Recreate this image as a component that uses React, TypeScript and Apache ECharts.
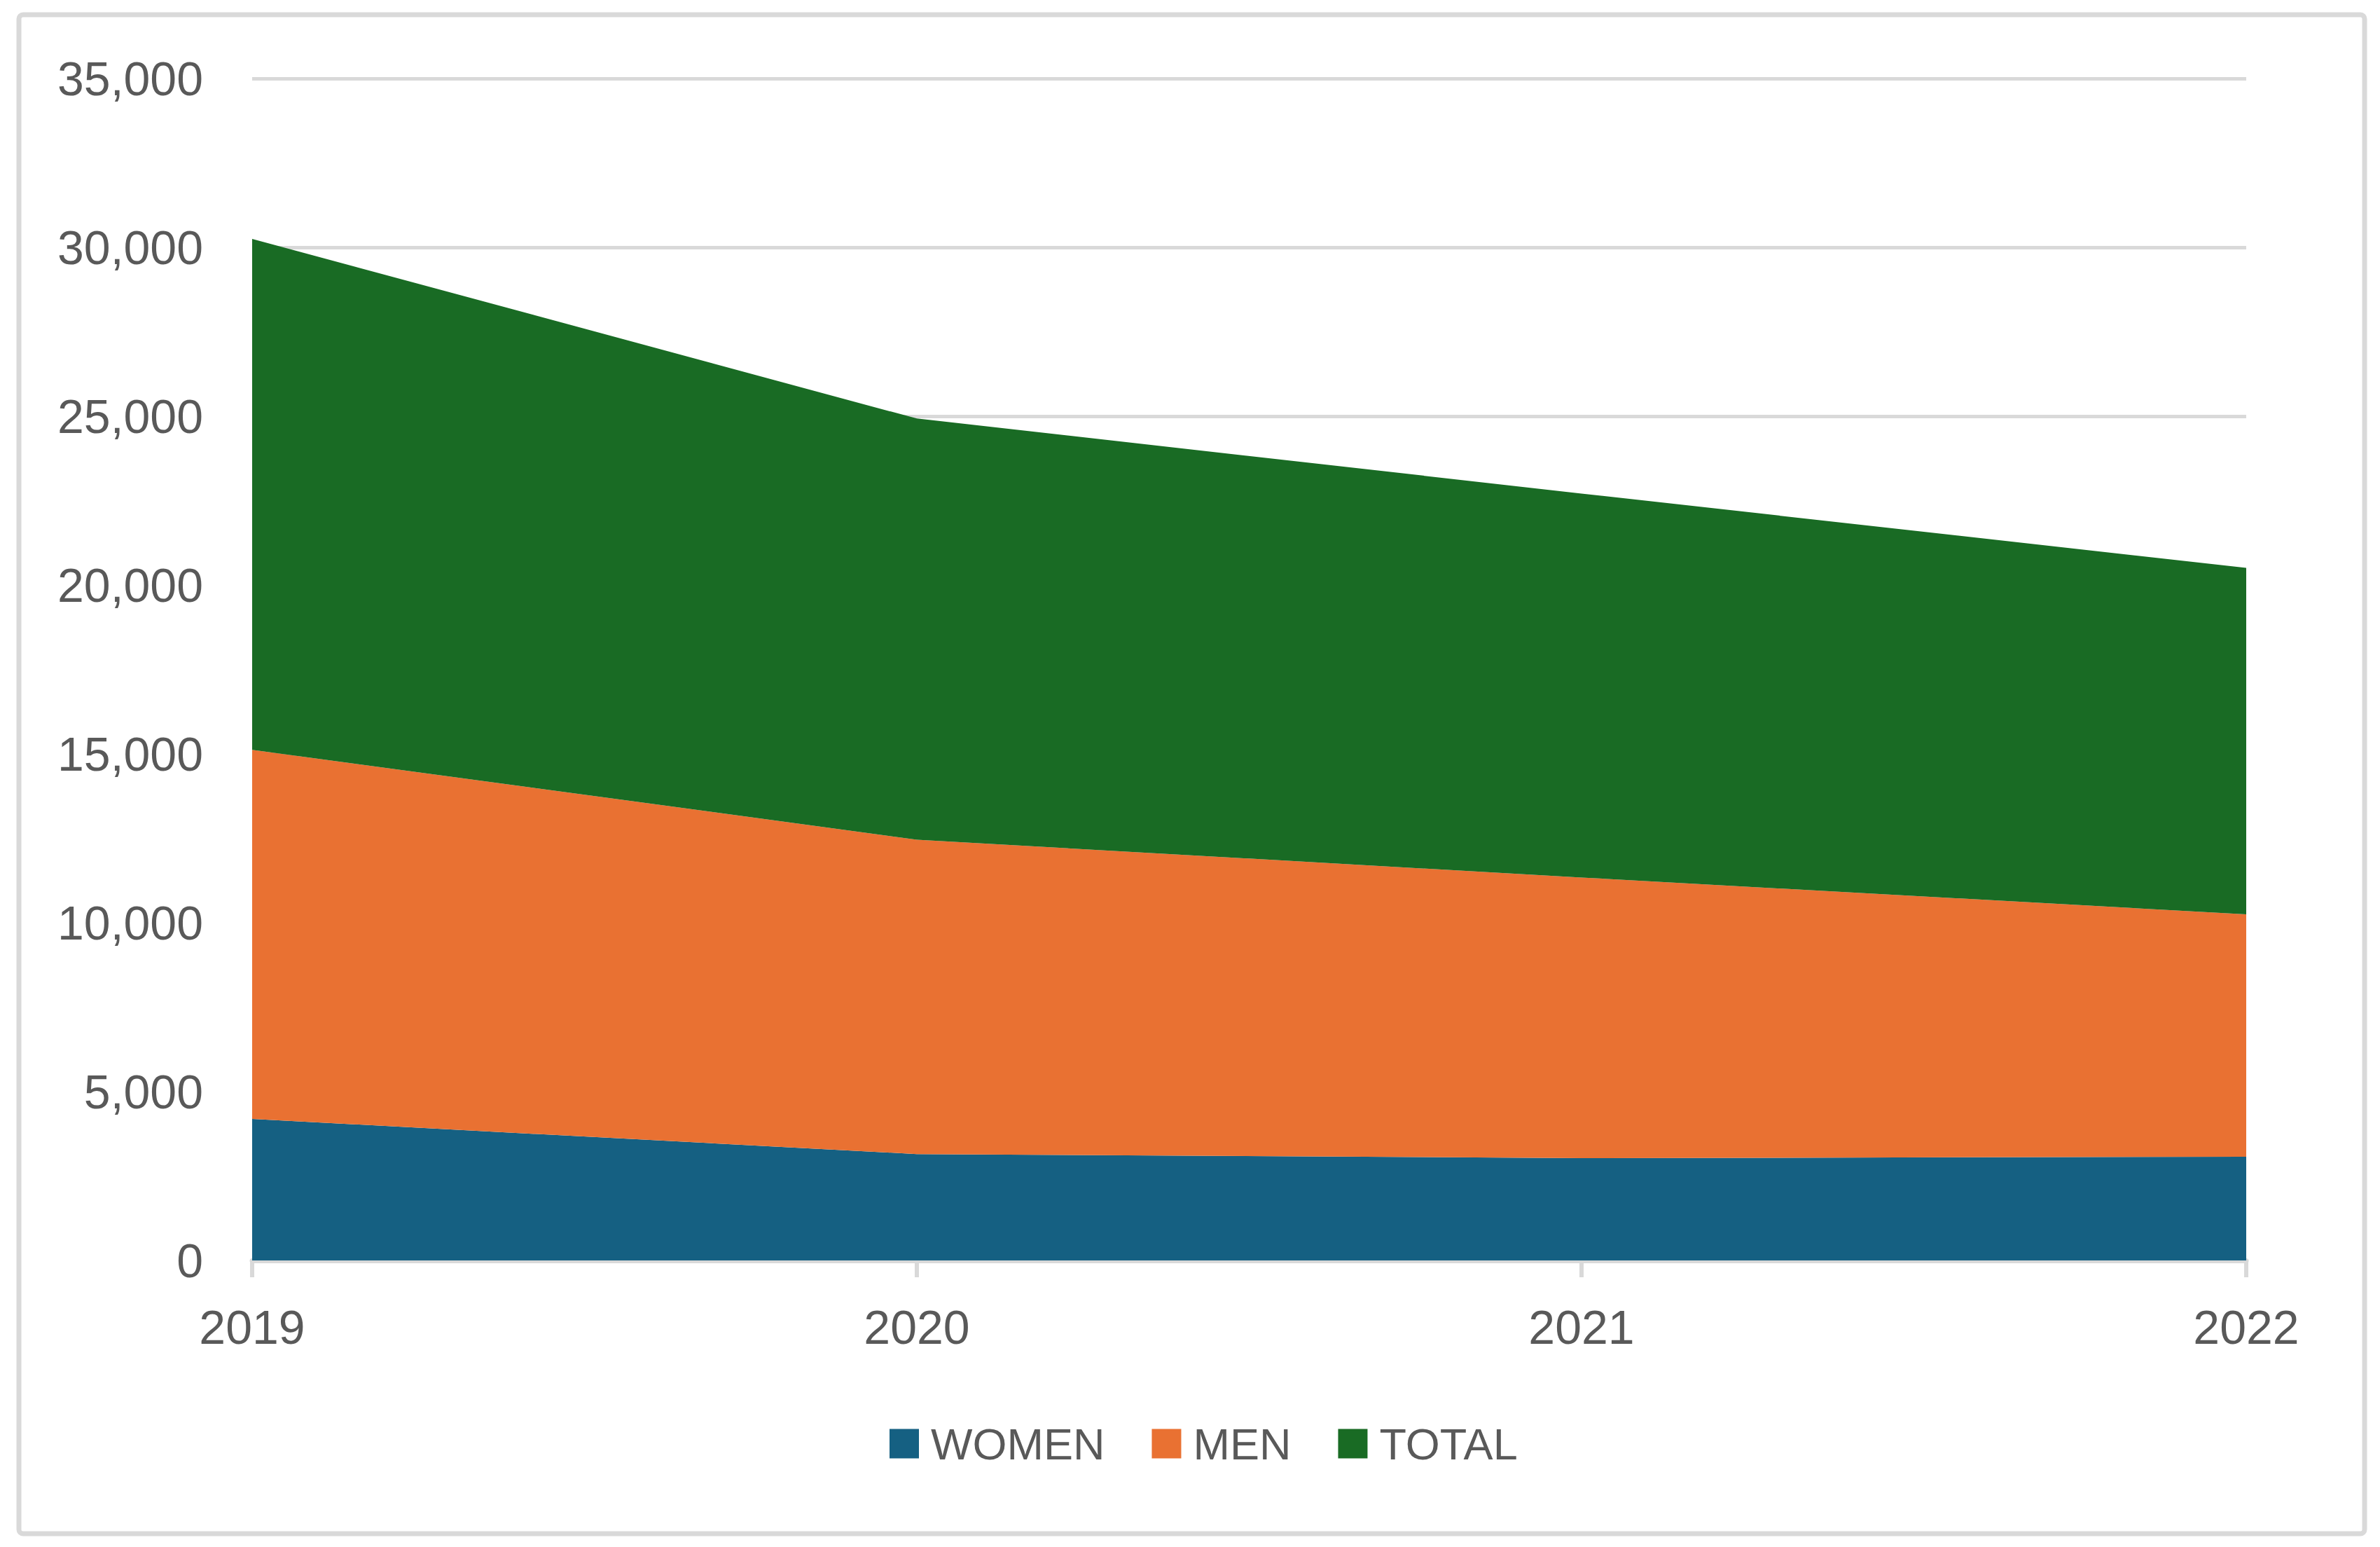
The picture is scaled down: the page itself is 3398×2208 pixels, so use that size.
import React, { useEffect, useRef } from "react";
import * as echarts from "echarts";

const years = ["2019", "2020", "2021", "2022"];
const women = [4190, 3150, 3030, 3070];
const men = [10930, 9310, 8310, 7180];
const total = [15130, 12470, 11370, 10260];
const yTicks = { min: 0, max: 35000, interval: 5000 };

const TEXT = "#595959";
const GRID = "#D9D9D9";
const FONT = "Liberation Sans, Arial, sans-serif";

export default function App() {
  const ref = useRef<HTMLDivElement>(null);
  useEffect(() => {
    if (!ref.current) return;
    const chart = echarts.init(ref.current, undefined, { renderer: "svg" });
    const mk = (name: string, data: number[], color: string) => ({
      name,
      type: "line",
      stack: "all",
      data,
      symbol: "none",
      lineStyle: { width: 0 },
      itemStyle: { color },
      areaStyle: { color, opacity: 1 },
    });
    chart.setOption({
      animation: false,
      backgroundColor: "#ffffff",
      textStyle: { fontFamily: FONT },
      graphic: [
        {
          type: "rect",
          shape: { x: 27, y: 21, width: 3349, height: 2168, r: 6 },
          style: { fill: "none", stroke: GRID, lineWidth: 7 },
          silent: true,
        },
      ],
      grid: { left: 360, right: 191, top: 112, bottom: 409, containLabel: false },
      legend: {
        data: ["WOMEN", "MEN", "TOTAL"],
        left: 1265,
        top: 2024,
        icon: "rect",
        itemWidth: 42,
        itemHeight: 42,
        itemGap: 67,
        textStyle: { color: TEXT, fontSize: 63, fontFamily: FONT, padding: [0, 0, 0, 12] },
      },
      xAxis: {
        type: "category",
        data: years,
        boundaryGap: false,
        axisLine: { show: true, lineStyle: { color: GRID, width: 7 } },
        axisTick: { show: true, length: 24, lineStyle: { color: GRID, width: 6 } },
        axisLabel: { color: TEXT, fontSize: 68, fontFamily: FONT, margin: 61 },
        splitLine: { show: false },
      },
      yAxis: {
        type: "value",
        min: yTicks.min,
        max: yTicks.max,
        interval: yTicks.interval,
        axisLine: { show: false },
        axisTick: { show: false },
        axisLabel: {
          color: TEXT,
          fontSize: 68,
          fontFamily: FONT,
          margin: 70,
          formatter: (v: number) => v.toLocaleString("en-US"),
        },
        splitLine: { show: true, lineStyle: { color: GRID, width: 5 } },
      },
      series: [
        mk("WOMEN", women, "#156082"),
        mk("MEN", men, "#E97132"),
        mk("TOTAL", total, "#196B24"),
      ],
    });
    return () => chart.dispose();
  }, []);
  return (
    <div
      ref={ref}
      style={{ position: "fixed", left: 0, top: 0, width: 3398, height: 2208, background: "#fff" }}
    />
  );
}
